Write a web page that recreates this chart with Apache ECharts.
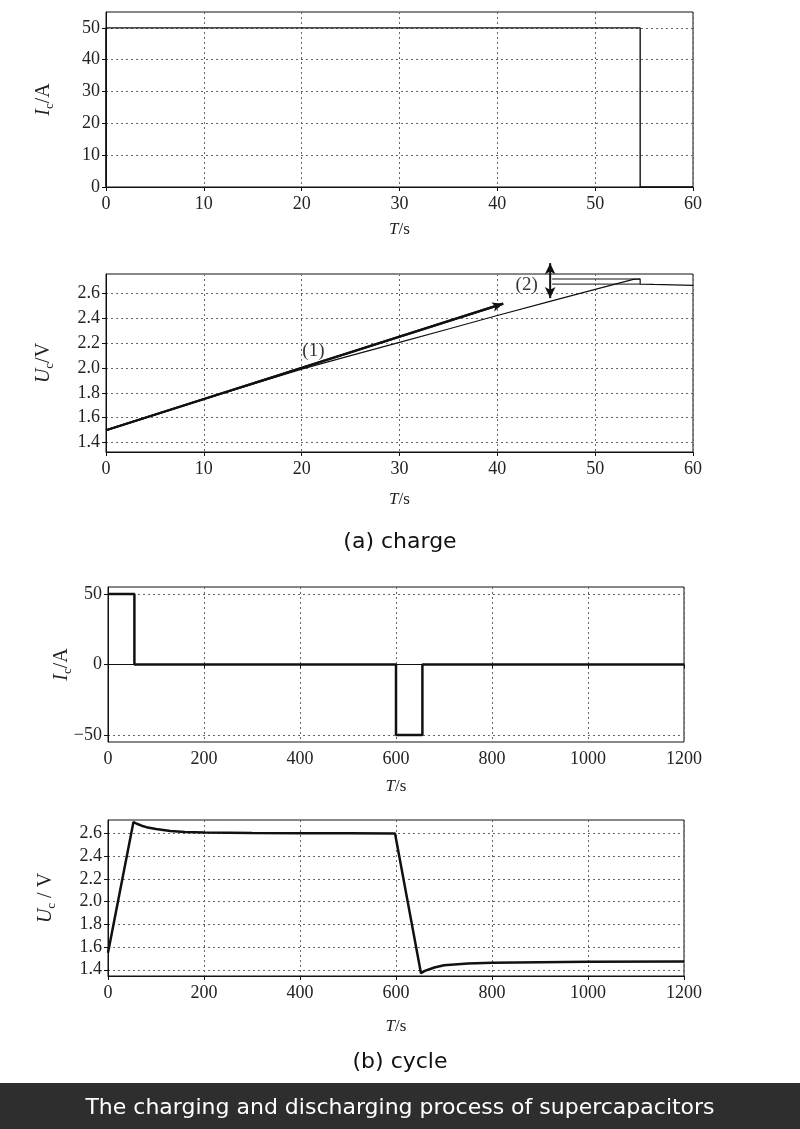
<!DOCTYPE html>
<html><head><meta charset="utf-8">
<script src="https://cdn.jsdelivr.net/npm/echarts@6/dist/echarts.min.js"></script>
<style>html,body{margin:0;padding:0;background:#fff}#c{width:800px;height:1129px}</style>
</head><body><div id="c"></div>
<script>
// (a) charge: current
const chargeT = [0, 0, 54.6, 54.6, 60];
const chargeI = [0, 50, 50, 0, 0];
// (a) charge: voltage, ideal line (1)
const idealT = [0, 40.6];
const idealU = [1.5, 2.515];
// (a) charge: voltage, measured curve
const measT = [0, 5, 10, 15, 20, 25, 30, 35, 40, 45, 50, 53.9, 54.6, 54.6, 56, 58, 60];
const measU = [1.5, 1.625, 1.748, 1.87, 1.99, 2.098, 2.205, 2.312, 2.42, 2.525, 2.63, 2.71, 2.713, 2.672, 2.669, 2.665, 2.661];
// (2) annotation
const refT = [45.6, 54.6];
const refHigh = 2.713, refLow = 2.672;
const arrowT = 45.4, arrowU = [2.56, 2.84];
// (b) cycle: current
const cycleT = [0, 55, 55, 600, 600, 655, 655, 1200];
const cycleI = [50, 50, 0, 0, -50, -50, 0, 0];
// (b) cycle: voltage
const cycT = [0, 53, 60, 70, 80, 100, 130, 160, 200, 300, 400, 500, 598, 652, 660, 680, 700, 750, 800, 900, 1000, 1200];
const cycU = [1.55, 2.70, 2.685, 2.668, 2.655, 2.638, 2.622, 2.613, 2.607, 2.603, 2.602, 2.601, 2.6, 1.37, 1.39, 1.42, 1.44, 1.455, 1.462, 1.467, 1.47, 1.473];
// tick labels
const ticksI1 = [0, 10, 20, 30, 40, 50];
const ticksU = [1.4, 1.6, 1.8, 2.0, 2.2, 2.4, 2.6];
const ticksI2 = [-50, 0, 50];

const zip = (a, b) => a.map((v, i) => [v, b[i]]);
const SERIF = 'Liberation Serif';
const INK = '#111';
const LBL = 18;

const split = { show: true, lineStyle: { color: '#666', type: [2, 3], width: 1 } };
function xAxis(gi, max, interval, gap) {
  return {
    gridIndex: gi, type: 'value', min: 0, max: max, interval: interval,
    name: '{i|T}{n|/s}', nameLocation: 'middle', nameGap: gap,
    nameTextStyle: { rich: { i: { fontFamily: SERIF, fontStyle: 'italic', fontSize: 17, color: '#222' }, n: { fontFamily: SERIF, fontSize: 17, color: '#222' } } },
    axisLine: { show: true, lineStyle: { color: INK, width: 1 } },
    axisTick: { show: true, inside: false, length: 4, lineStyle: { color: INK } },
    axisLabel: { fontFamily: SERIF, fontSize: LBL, color: '#222', margin: 8, formatter: v => String(Math.round(v)) },
    splitLine: split
  };
}
function yAxis(gi, min, max, ticks, nameTxt, gap, fmt) {
  return {
    gridIndex: gi, type: 'value', min: min, max: max,
    name: nameTxt, nameLocation: 'middle', nameGap: gap, nameRotate: 90, nameMoveOverlap: false,
    nameTextStyle: { rich: {
      i: { fontFamily: SERIF, fontStyle: 'italic', fontSize: 20, color: '#222', lineHeight: 24 },
      s: { fontFamily: SERIF, fontSize: 13, color: '#222', lineHeight: 13, verticalAlign: 'bottom' },
      n: { fontFamily: SERIF, fontSize: 20, color: '#222', lineHeight: 24 }
    } },
    axisLine: { show: true, lineStyle: { color: INK, width: 1 } },
    axisTick: { show: true, inside: false, length: 4, lineStyle: { color: INK }, customValues: ticks },
    axisLabel: { fontFamily: SERIF, fontSize: LBL, color: '#222', margin: 6, customValues: ticks, formatter: fmt },
    splitLine: split
  };
}
const f1 = v => v.toFixed(1);
const f0 = v => String(Math.round(v)).replace('-', '\u2212');

const chart = echarts.init(document.getElementById('c'), null, { renderer: 'canvas' });
const gridBase = { show: true, borderColor: INK, borderWidth: 1, containLabel: false, outerBoundsMode: 'none' };
chart.setOption({
  animation: false,
  backgroundColor: '#fff',
  grid: [
    Object.assign({ left: 106, top: 12, width: 587, height: 175 }, gridBase),
    Object.assign({ left: 106, top: 274, width: 587, height: 178 }, gridBase),
    Object.assign({ left: 108, top: 587, width: 576, height: 155 }, gridBase),
    Object.assign({ left: 108, top: 820, width: 576, height: 156 }, gridBase)
  ],
  xAxis: [xAxis(0, 60, 10, 34), xAxis(1, 60, 10, 39), xAxis(2, 1200, 200, 36), xAxis(3, 1200, 200, 42)],
  yAxis: [
    yAxis(0, 0, 55, ticksI1, '{i|I}{s|c}{n|/A}', 50, f0),
    yAxis(1, 1.325, 2.753, ticksU, '{i|U}{s|c}{n|/V}', 50, f1),
    yAxis(2, -55, 55, ticksI2, '{i|I}{s|c}{n|/A}', 34, f0),
    yAxis(3, 1.345, 2.718, ticksU, '{i|U}{s|c}{n| / V}', 50, f1)
  ],
  series: [
    { type: 'line', xAxisIndex: 0, yAxisIndex: 0, data: zip(chargeT, chargeI), showSymbol: false, lineStyle: { color: INK, width: 1.4 } },
    { type: 'line', xAxisIndex: 1, yAxisIndex: 1, data: zip(measT, measU), showSymbol: false, lineStyle: { color: INK, width: 1.2 } },
    { type: 'line', xAxisIndex: 1, yAxisIndex: 1, data: zip(idealT, idealU), showSymbol: false, lineStyle: { color: INK, width: 2.2 },
      markLine: { silent: true, symbol: ['none', 'arrow'], symbolSize: [7, 11], label: { show: false },
        lineStyle: { color: INK, width: 2.2, type: 'solid' },
        data: [[{ coord: [idealT[0], idealU[0]] }, { coord: [idealT[1], idealU[1]] }]] } },
    { type: 'line', xAxisIndex: 1, yAxisIndex: 1, data: zip(refT, [refHigh, refHigh]), showSymbol: false, lineStyle: { color: INK, width: 1 } },
    { type: 'line', xAxisIndex: 1, yAxisIndex: 1, data: zip(refT, [refLow, refLow]), showSymbol: false, lineStyle: { color: INK, width: 1 } },
    { type: 'line', xAxisIndex: 1, yAxisIndex: 1, clip: false, showSymbol: true, symbol: 'arrow', symbolSize: [8, 11],
      itemStyle: { color: INK },
      data: [{ value: [arrowT, arrowU[1]], symbolRotate: 0 }, { value: [arrowT, arrowU[0]], symbolRotate: 180 }],
      lineStyle: { color: INK, width: 2 } },
    { type: 'scatter', xAxisIndex: 1, yAxisIndex: 1, symbolSize: 0, silent: true,
      data: [{ value: [21.2, 2.135], name: '(1)' }, { value: [43.0, 2.667], name: '(2)' }],
      label: { show: true, position: 'inside', formatter: p => p.name, fontFamily: SERIF, fontSize: 19, color: '#000' } },
    { type: 'line', xAxisIndex: 2, yAxisIndex: 2, data: zip(cycleT, cycleI), showSymbol: false, lineStyle: { color: INK, width: 2.5 } },
    { type: 'line', xAxisIndex: 3, yAxisIndex: 3, data: zip(cycT, cycU), showSymbol: false, lineStyle: { color: INK, width: 2.5 } }
  ],
  graphic: [
    { type: 'text', left: 'center', top: 531, style: { text: '(a) charge', font: '22px "DejaVu Sans"', fill: '#111' } },
    { type: 'text', left: 'center', top: 1051, style: { text: '(b) cycle', font: '22px "DejaVu Sans"', fill: '#111' } },
    { type: 'rect', left: 0, top: 1083, shape: { width: 800, height: 46 }, style: { fill: '#2e2e2e' } },
    { type: 'text', left: 'center', top: 1097, style: { text: 'The charging and discharging process of supercapacitors', font: '22px "DejaVu Sans"', fill: '#fff' } }
  ]
});
</script></body></html>
